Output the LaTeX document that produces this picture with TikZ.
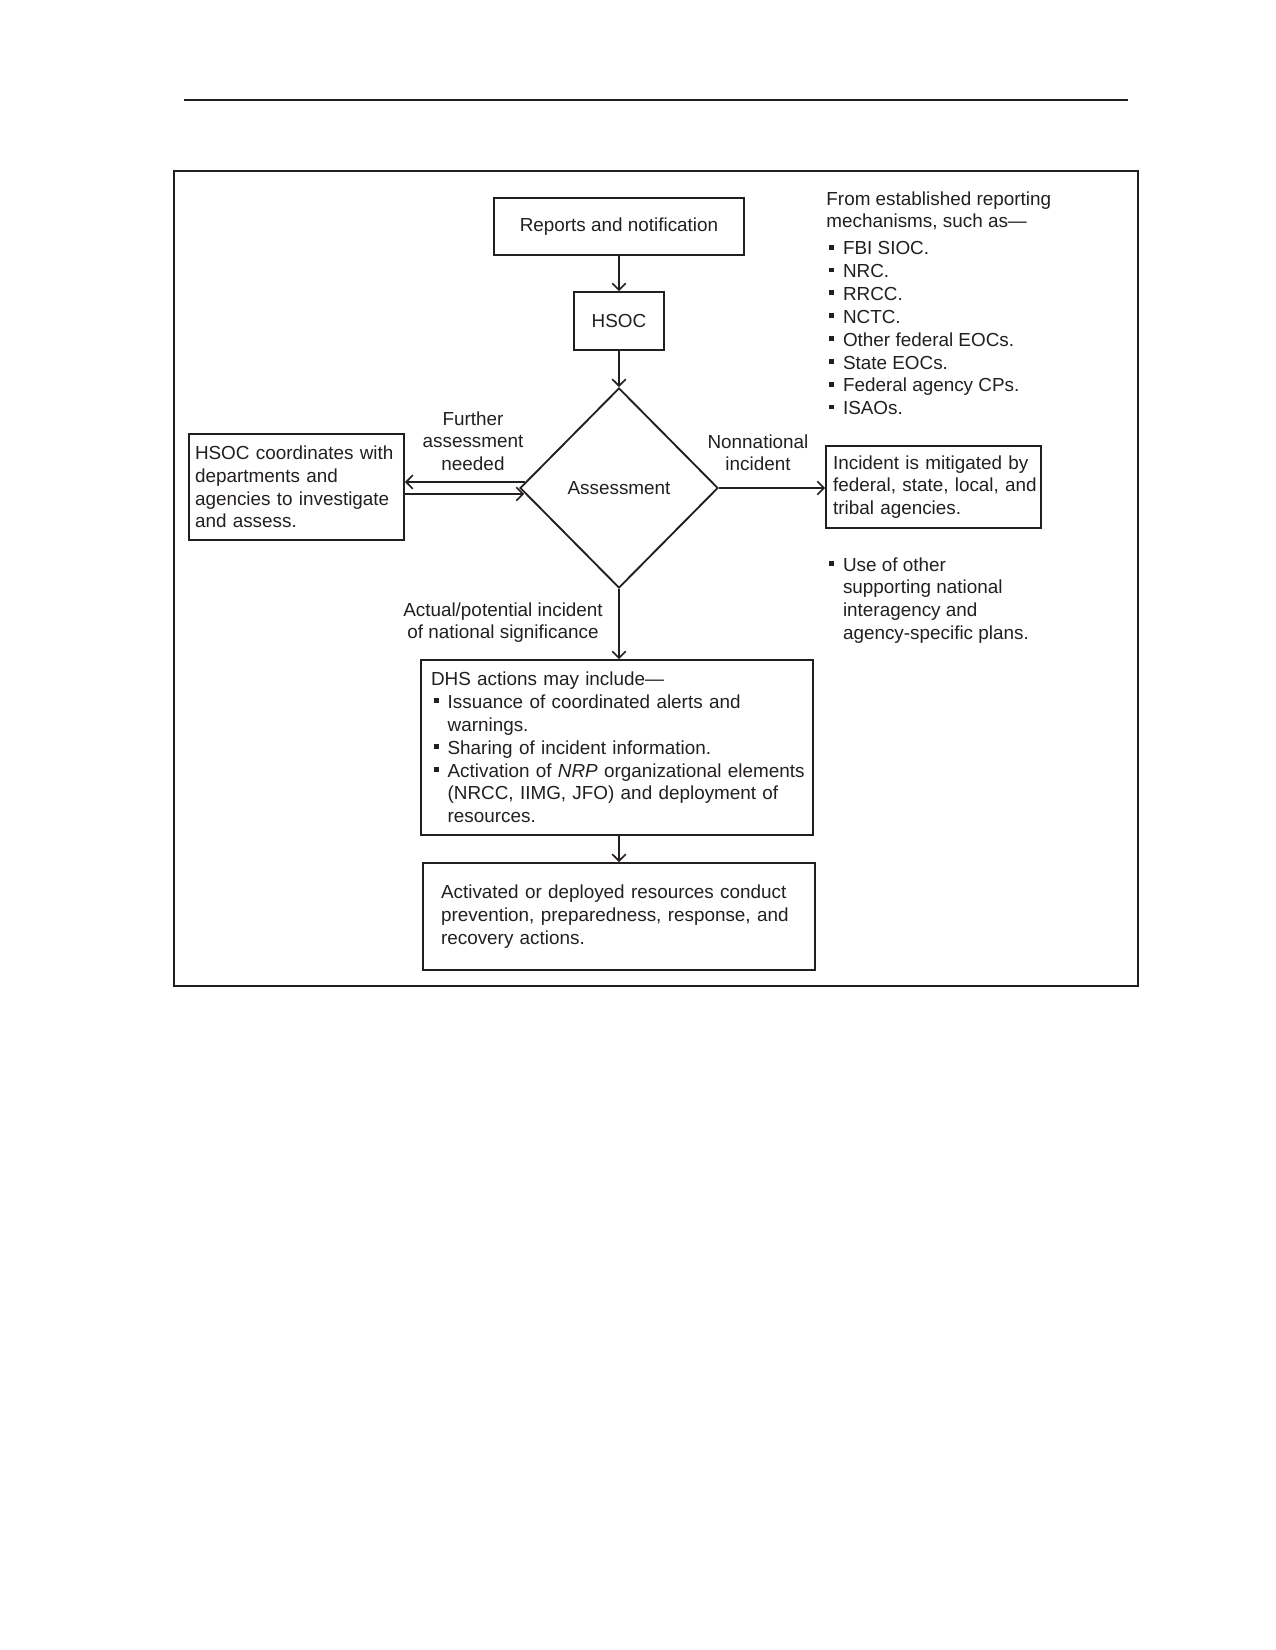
\documentclass[tikz,border=0pt]{standalone}
\usepackage{fontspec}
\setmainfont{Liberation Sans}
\usetikzlibrary{shapes.geometric,arrows.meta,calc}
\definecolor{ink}{HTML}{231F20}
\newcommand\mybul{\makebox[8pt][l]{\hspace{1.3pt}\rule[2.6pt]{2.3pt}{2.3pt}}}
\newcommand\myind{\hspace*{8pt}}
\begin{document}
\begin{tikzpicture}[x=0.4818pt,y=-0.4818pt,
  every node/.style={font=\fontsize{9.1}{11}\selectfont, text=ink},
  box/.style={draw=ink, line width=0.9pt, rectangle, inner ysep=0pt},
  lbl/.style={inner sep=0pt, align=center},
  freetxt/.style={inner sep=0pt, align=left, anchor=north west},
  arr/.style={draw=ink, line width=0.8pt, -{Straight Barb[length=3.2pt,width=6.5pt]}}]
\useasboundingbox (0,0) rectangle (1275,1650);
\fill[white] (0,0) rectangle (1275,1650);
% top rule and frame
\draw[ink, line width=1.3pt] (184,100) -- (1128,100);
\draw[ink, line width=1pt] (174,171) rectangle (1138,986);
% boxes
\node[box, minimum width=120.5pt, minimum height=27.5pt, align=center] (reports) at (619,226.5) {Reports and notification};
\node[box, minimum width=43.4pt, minimum height=27.9pt, align=center] (hsoc) at (619,321) {HSOC};
\node[draw=ink, line width=0.9pt, diamond, aspect=1, inner sep=0pt, minimum width=95.4pt, minimum height=96.4pt] (assess) at (619,488) {Assessment};
\node[box, minimum width=103.6pt, minimum height=51.1pt, inner xsep=2.9pt, text width=97.8pt, align=left] (hsocc) at (296.5,487)
  {\mbox{HSOC coordinates with}\\\mbox{departments and}\\\mbox{agencies to investigate}\\\mbox{and assess.}};
\node[box, minimum width=103.6pt, minimum height=39.5pt, inner xsep=3.4pt, text width=96.8pt, align=left] (mitig) at (933.5,487)
  {\mbox{Incident is mitigated by}\\\mbox{federal, state, local, and}\\\mbox{tribal agencies.}};
\node[box, minimum width=188.9pt, minimum height=84.3pt, inner xsep=4.8pt, text width=179.2pt, align=left] (dhs) at (617,747.5)
  {\mbox{DHS actions may include—}\\
   \mbox{\mybul Issuance of coordinated alerts and}\\
   \mbox{\myind warnings.}\\
   \mbox{\mybul Sharing of incident information.}\\
   \mbox{\mybul Activation of \textit{NRP} organizational elements}\\
   \mbox{\myind (NRCC, IIMG, JFO) and deployment of}\\
   \mbox{\myind resources.}};
\node[box, minimum width=188.9pt, minimum height=51.6pt, inner xsep=8.7pt, text width=171.5pt, align=left] (act) at (619,916.5)
  {\mbox{Activated or deployed resources conduct}\\\mbox{prevention, preparedness, response, and}\\\mbox{recovery actions.}};
% free texts
\node[freetxt] (srcs) at (826,191)
  {From established reporting\\mechanisms, such as—\\[2pt]
   \mybul FBI SIOC.\\
   \mybul NRC.\\
   \mybul RRCC.\\
   \mybul NCTC.\\
   \mybul Other federal EOCs.\\
   \mybul State EOCs.\\
   \mybul Federal agency CPs.\\
   \mybul ISAOs.};
\node[freetxt] (other) at (826,557)
  {\mybul Use of other\\
   \myind supporting national\\
   \myind interagency and\\
   \myind agency-specific plans.};
\node[lbl, anchor=north] (further) at (473,411) {Further\\assessment\\needed};
\node[lbl, anchor=north] (nonnat) at (758,434) {Nonnational\\incident};
\node[lbl, anchor=north] (actual) at (503,602) {Actual/potential incident\\of national significance};
% connector end points on the diamond edge
\coordinate (upA) at ($(assess.west)+(6,-6)$);
\coordinate (loA) at ($(assess.west)+(5,6)$);
% connectors
\draw[arr] (reports.south) -- (hsoc.north);
\draw[arr] (hsoc.south) -- (assess.north);
\draw[arr] (upA) -- (upA -| hsocc.east);
\draw[arr] (loA -| hsocc.east) -- (loA);
\draw[arr] (assess.east) -- (assess.east -| mitig.west);
\draw[arr] (assess.south) -- (assess.south |- dhs.north);
\draw[arr] (assess.south |- dhs.south) -- (assess.south |- act.north);
\end{tikzpicture}
\end{document}
